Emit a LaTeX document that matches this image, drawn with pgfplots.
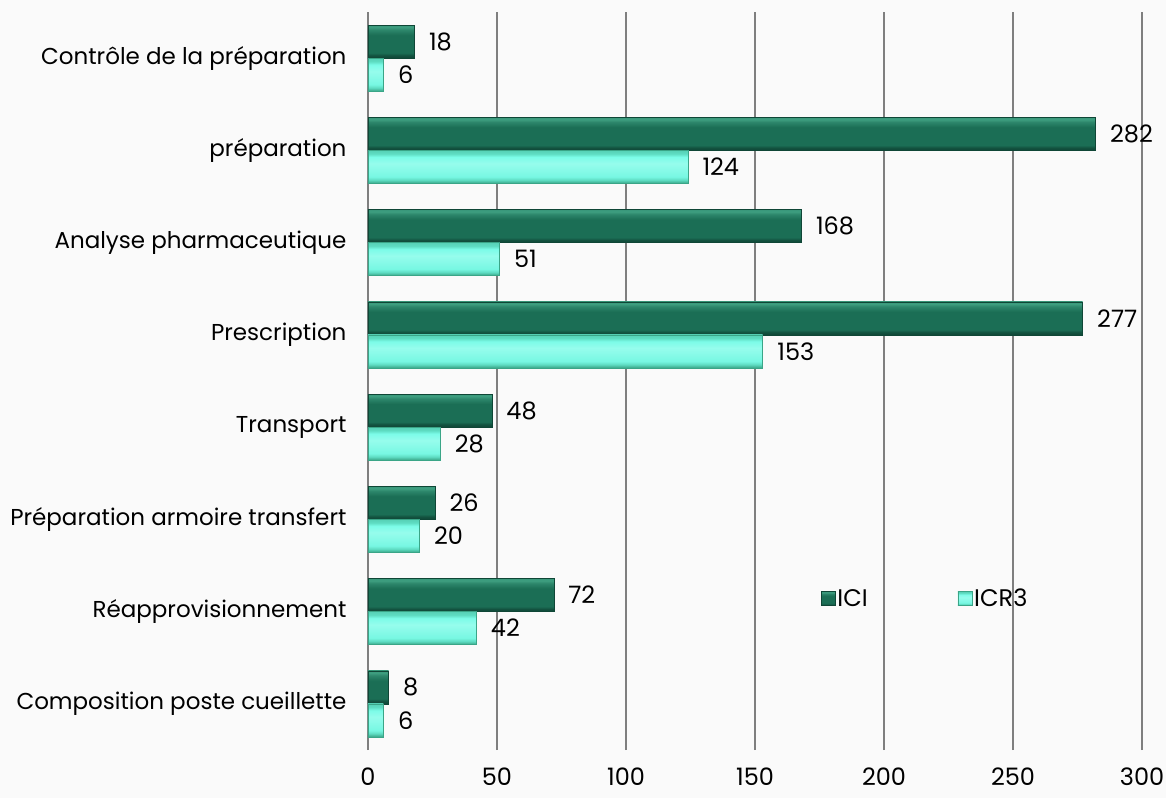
\documentclass[border=0pt]{standalone}
\usepackage{fontspec}
\setmainfont{Poppins}
\usepackage{pgfplots}
\pgfplotsset{compat=1.18}

\definecolor{iciMid}{HTML}{1B6E55}
\definecolor{iciTop}{HTML}{3E9E80}
\definecolor{iciBot}{HTML}{0F4636}
\definecolor{icrMid}{HTML}{7CFCE8}
\definecolor{icrTop}{HTML}{5EDCC2}
\definecolor{icrBot}{HTML}{3AA587}
\definecolor{gridgray}{HTML}{7F7F7F}

% bevelled bar faces: light upper rim, flat face, dark lower rim
\pgfdeclareverticalshading{iciBevel}{100bp}{%
  color(0bp)=(iciBot); color(25bp)=(iciBot); color(29bp)=(iciBot!70!iciMid);
  color(33bp)=(iciMid); color(60bp)=(iciMid); color(68bp)=(iciMid!50!iciTop);
  color(72bp)=(iciTop); color(75bp)=(iciTop!85!iciMid); color(100bp)=(iciTop!85!iciMid)}
\pgfdeclareverticalshading{icrBevel}{100bp}{%
  color(0bp)=(icrBot); color(25bp)=(icrBot); color(30bp)=(icrTop);
  color(35bp)=(icrMid!85!icrTop); color(55bp)=(icrMid!80!white); color(65bp)=(icrMid);
  color(70bp)=(icrTop); color(75bp)=(icrTop!80!icrBot); color(100bp)=(icrTop!80!icrBot)}

% one bar per \addplot so that each bar carries its own bevel shading
\pgfplotsset{
  ici/.style={bar shift=0.1785, draw=iciBot, line width=0.5pt,
    shade, shading=iciBevel,
    legend image code/.code={\shade[shading=iciBevel]
      (0pt,-7pt) rectangle (14pt,7pt);}},
  icr/.style={bar shift=-0.1785, draw=icrBot, line width=0.5pt,
    shade, shading=icrBevel,
    legend image code/.code={\shade[shading=icrBevel]
      (0pt,-7pt) rectangle (14pt,7pt);}},
}

\begin{document}
\begin{tikzpicture}
% page frame with a faint grey ground
\useasboundingbox[fill=black!2] (-368pt,-48pt) rectangle (798pt,750pt);
\begin{axis}[
  at={(0pt,0pt)}, anchor=south west,
  scale only axis, width=774pt, height=738pt,
  xmin=0, xmax=300, ymin=-0.5, ymax=7.5,
  xtick={0,50,...,300},
  ytick={0,...,7},
  yticklabels={Composition poste cueillette, Réapprovisionnement,
    Préparation armoire transfert, Transport, Prescription,
    Analyse pharmaceutique, préparation, Contrôle de la préparation},
  xbar, bar width=0.357,
  axis line style={draw=none},
  xmajorgrids, grid style={gridgray, line width=1.3pt},
  major tick length=0pt,
  /pgf/number format/assume math mode=true,
  yticklabel style={font=\fontsize{23}{25}\selectfont, text=black,
    anchor=east, xshift=-18pt},
  xticklabel style={font=\fontsize{24}{25}\selectfont, text=black,
    anchor=north, yshift=-14pt},
  nodes near coords,
  every node near coord/.append style={font=\fontsize{24}{25}\selectfont,
    text=black, anchor=west, xshift=11pt},
  legend style={draw=none, fill=none, at={(0.581,0.205)}, anchor=west,
    legend columns=2, font=\fontsize{24}{25}\selectfont,
    /tikz/every even column/.append style={column sep=88pt}},
]
% ICI
\addplot[ici] coordinates {(8,0)};
\addlegendentry{ICI}
\addplot[ici, forget plot] coordinates {(72,1)};
\addplot[ici, forget plot] coordinates {(26,2)};
\addplot[ici, forget plot] coordinates {(48,3)};
\addplot[ici, forget plot] coordinates {(277,4)};
\addplot[ici, forget plot] coordinates {(168,5)};
\addplot[ici, forget plot] coordinates {(282,6)};
\addplot[ici, forget plot] coordinates {(18,7)};
% ICR3
\addplot[icr] coordinates {(6,0)};
\addlegendentry{ICR3}
\addplot[icr, forget plot] coordinates {(42,1)};
\addplot[icr, forget plot] coordinates {(20,2)};
\addplot[icr, forget plot] coordinates {(28,3)};
\addplot[icr, forget plot] coordinates {(153,4)};
\addplot[icr, forget plot] coordinates {(51,5)};
\addplot[icr, forget plot] coordinates {(124,6)};
\addplot[icr, forget plot] coordinates {(6,7)};
\end{axis}
\end{tikzpicture}
\end{document}
